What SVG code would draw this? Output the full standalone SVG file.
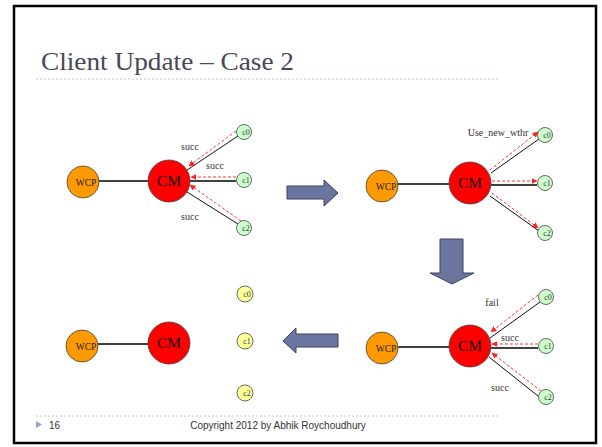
<svg xmlns="http://www.w3.org/2000/svg" width="602" height="447" viewBox="0 0 602 447">
<defs>
<style>
.frame{fill:#fff;stroke:#000;stroke-width:2.5}
.title{font-family:"Liberation Serif",serif;font-size:26px;fill:#484856}
.sep{stroke:#b8c8dc;stroke-width:1;stroke-dasharray:2,2}
.foot{font-family:"Liberation Sans",Arial,sans-serif;font-size:10px;fill:#333}
.wcp{fill:#ff9900;stroke:#444;stroke-width:0.8}
.cm{fill:#ff0000;stroke:#444;stroke-width:0.8}
.cg{fill:#ccffcc;stroke:#444;stroke-width:0.8}
.cy{fill:#ffff99;stroke:#444;stroke-width:0.8}
.lw{font-family:"Liberation Serif",serif;font-size:9.5px;fill:#222}
.lcm{font-family:"Liberation Serif",serif;font-size:15.5px;fill:#111}
.lc{font-family:"Liberation Serif",serif;font-size:8px;fill:#333}
.el{font-family:"Liberation Serif",serif;font-size:10px;fill:#333}
.blk{stroke:#111;stroke-width:1;fill:none}
.thick{stroke:#000;stroke-width:1.3;fill:none}
.red{stroke:#ff2020;stroke-width:0.9;stroke-dasharray:3,2;fill:none;marker-end:url(#ah)}
.big{fill:#6b76a0;stroke:#3c4060;stroke-width:1}
</style>
<marker id="ah" viewBox="0 0 10 10" refX="9" refY="5" markerWidth="6" markerHeight="6" markerUnits="userSpaceOnUse" orient="auto">
<path d="M0,0 L10,5 L0,10 z" fill="#ff2020"/>
</marker>
</defs>
<rect class="frame" x="14" y="6" width="582" height="437"/>
<text class="title" x="41" y="70" textLength="253" lengthAdjust="spacingAndGlyphs">Client Update – Case 2</text>
<line class="sep" x1="36" y1="79" x2="498" y2="79"/>
<line class="sep" x1="36" y1="416" x2="498" y2="416"/>
<path d="M36,421 L42,424.5 L36,428 z" fill="#8aa8c8"/>
<text class="foot" x="49" y="429">16</text>
<text class="foot" x="278" y="429" text-anchor="middle">Copyright 2012 by Abhik Roychoudhury</text>

<!-- big arrows -->
<g id="arrow-right"><path class="big" d="M287,186 L324,186 L324,180 L338,193 L324,206 L324,199 L287,199 z"/></g>
<g id="arrow-down"><path class="big" d="M440,239 L463,239 L463,273 L474,273 L452,284 L430,273 L440,273 z"/></g>
<g id="arrow-left"><path class="big" d="M338,334 L296,334 L296,328 L283,341 L296,353 L296,347 L338,347 z"/></g>

<g id="connectors">
<!-- panel 1 -->
<line class="thick" x1="99" y1="181" x2="148" y2="181"/>
<line class="blk" x1="187" y1="170" x2="238" y2="136"/>
<line class="thick" x1="190" y1="181" x2="236" y2="181"/>
<line class="blk" x1="187" y1="192" x2="238" y2="224"/>
<line class="red" x1="240" y1="128" x2="189" y2="166"/>
<line class="red" x1="236" y1="177" x2="191" y2="177"/>
<line class="red" x1="241" y1="221" x2="190" y2="185"/>
<!-- panel 2 -->
<line class="thick" x1="398" y1="184" x2="449" y2="184"/>
<line class="blk" x1="491" y1="173" x2="539" y2="139"/>
<line class="thick" x1="491" y1="185" x2="537" y2="185"/>
<line class="blk" x1="490" y1="196" x2="539" y2="231"/>
<line class="red" x1="490" y1="170" x2="538" y2="132"/>
<line class="red" x1="492" y1="181" x2="537" y2="181"/>
<line class="red" x1="492" y1="193" x2="538" y2="228"/>
<!-- panel 3 -->
<line class="thick" x1="398" y1="347" x2="449" y2="347"/>
<line class="blk" x1="540" y1="302" x2="490" y2="338"/>
<line class="thick" x1="538" y1="348" x2="491" y2="348"/>
<line class="blk" x1="538" y1="396" x2="489" y2="357"/>
<line class="red" x1="538" y1="295" x2="491" y2="332"/>
<line class="red" x1="538" y1="344" x2="492" y2="344"/>
<line class="red" x1="541" y1="391" x2="492" y2="353"/>
<!-- panel 4 -->
<line class="thick" x1="98" y1="344" x2="148" y2="344"/>
</g>

<g id="labels">
<text class="el" x="190" y="150" text-anchor="middle">succ</text>
<text class="el" x="215" y="169" text-anchor="middle">succ</text>
<text class="el" x="190" y="220" text-anchor="middle">succ</text>
<text class="el" x="498" y="136" text-anchor="middle" font-size="10.5">Use_new_wthr</text>
<text class="el" x="492" y="306" text-anchor="middle">fail</text>
<text class="el" x="510" y="341" text-anchor="middle">succ</text>
<text class="el" x="500" y="391" text-anchor="middle">succ</text>
</g>

<!-- panel 1 nodes -->
<g id="p1-wcp"><circle class="wcp" cx="83" cy="182" r="16"/><text class="lw" x="86" y="186" text-anchor="middle">WCP</text></g>
<g id="p1-cm"><circle class="cm" cx="169" cy="181" r="21"/><text class="lcm" x="169" y="186" text-anchor="middle">CM</text></g>
<g id="p1-c0"><circle class="cg" cx="244" cy="132" r="7.5"/><text class="lc" x="246" y="135" text-anchor="middle">c0</text></g>
<g id="p1-c1"><circle class="cg" cx="244" cy="180" r="7.5"/><text class="lc" x="246" y="183" text-anchor="middle">c1</text></g>
<g id="p1-c2"><circle class="cg" cx="244" cy="228" r="7.5"/><text class="lc" x="246" y="231" text-anchor="middle">c2</text></g>

<!-- panel 2 nodes -->
<g id="p2-wcp"><circle class="wcp" cx="382" cy="186" r="16"/><text class="lw" x="386" y="190" text-anchor="middle">WCP</text></g>
<g id="p2-cm"><circle class="cm" cx="470" cy="183" r="21"/><text class="lcm" x="470" y="188" text-anchor="middle">CM</text></g>
<g id="p2-c0"><circle class="cg" cx="545" cy="135" r="7.5"/><text class="lc" x="547" y="138" text-anchor="middle">c0</text></g>
<g id="p2-c1"><circle class="cg" cx="545" cy="183" r="7.5"/><text class="lc" x="547" y="186" text-anchor="middle">c1</text></g>
<g id="p2-c2"><circle class="cg" cx="545" cy="233" r="7.5"/><text class="lc" x="547" y="236" text-anchor="middle">c2</text></g>

<!-- panel 3 nodes -->
<g id="p3-wcp"><circle class="wcp" cx="382" cy="348" r="16"/><text class="lw" x="386" y="352" text-anchor="middle">WCP</text></g>
<g id="p3-cm"><circle class="cm" cx="470" cy="346" r="21"/><text class="lcm" x="470" y="351" text-anchor="middle">CM</text></g>
<g id="p3-c0"><circle class="cg" cx="546" cy="297" r="7.5"/><text class="lc" x="548" y="300" text-anchor="middle">c0</text></g>
<g id="p3-c1"><circle class="cg" cx="546" cy="346" r="7.5"/><text class="lc" x="548" y="349" text-anchor="middle">c1</text></g>
<g id="p3-c2"><circle class="cg" cx="546" cy="397" r="7.5"/><text class="lc" x="548" y="400" text-anchor="middle">c2</text></g>

<!-- panel 4 nodes -->
<g id="p4-wcp"><circle class="wcp" cx="82" cy="346" r="16"/><text class="lw" x="86" y="350" text-anchor="middle">WCP</text></g>
<g id="p4-cm"><circle class="cm" cx="169" cy="343" r="21"/><text class="lcm" x="169" y="348" text-anchor="middle">CM</text></g>
<g id="p4-c0"><circle class="cy" cx="245" cy="294" r="8"/><text class="lc" x="247" y="297" text-anchor="middle">c0</text></g>
<g id="p4-c1"><circle class="cy" cx="245" cy="341" r="8"/><text class="lc" x="247" y="344" text-anchor="middle">c1</text></g>
<g id="p4-c2"><circle class="cy" cx="245" cy="393" r="8"/><text class="lc" x="247" y="396" text-anchor="middle">c2</text></g>
</svg>
